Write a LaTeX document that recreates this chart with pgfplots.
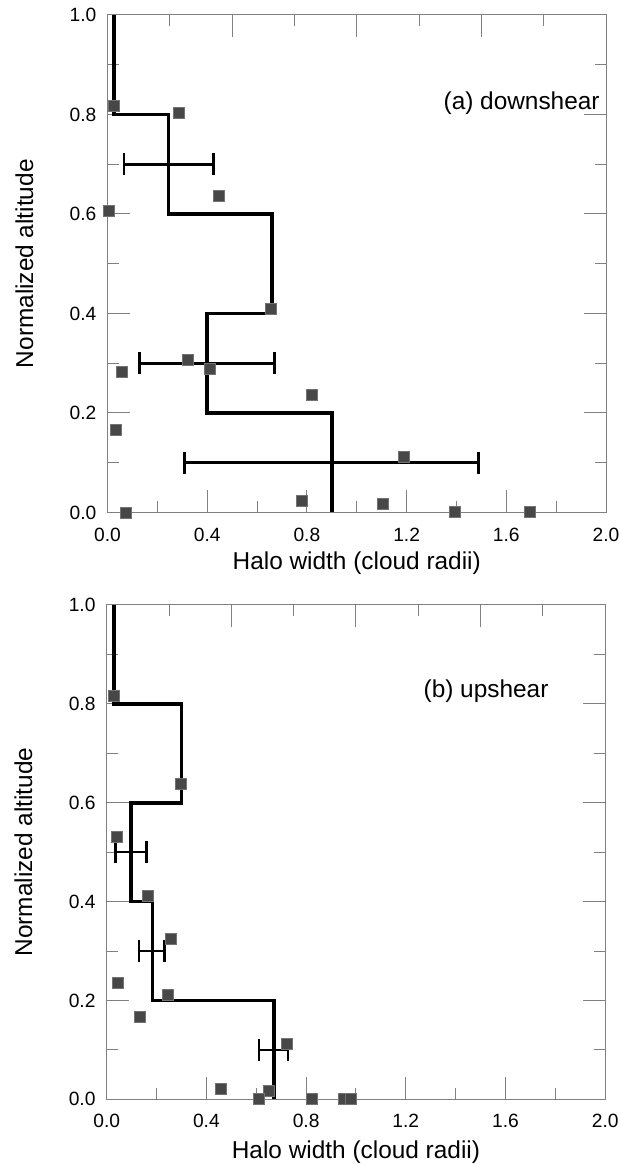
\documentclass[border=0pt]{standalone}
\usepackage{fontspec}
\setmainfont{Liberation Sans}
\usepackage{pgfplots}
\pgfplotsset{compat=1.18}

\newcommand{\tickfont}{\fontsize{9.6pt}{11pt}\selectfont}
\newcommand{\labfont}{\fontsize{12.2pt}{14pt}\selectfont}

\pgfplotsset{
  panel/.style={
    scale only axis, width=249.25pt,
    xmin=0, xmax=2, ymin=0, ymax=1,
    clip=false,
    axis line style={black!50, line width=0.5pt},
    every tick/.style={black!50, line width=0.5pt},
    major tick length=11pt, minor tick length=5.5pt,
    tick align=inside,
    xtick={0,0.4,0.8,1.2,1.6,2.0}, minor xtick={0.2,0.6,1.0,1.4,1.8},
    ytick={0,0.2,0.4,0.6,0.8,1.0}, minor ytick={0.1,0.3,0.5,0.7,0.9},
    xtick pos=lower, ytick pos=both,
    xticklabel style={font=\tickfont, inner sep=0pt, anchor=north, yshift=-7.4pt},
    yticklabel style={font=\tickfont, inner sep=0pt, anchor=east, xshift=-5.4pt},
    xticklabel={\pgfmathprintnumber[fixed, fixed zerofill, precision=1, assume math mode=true]{\tick}},
    yticklabel={\pgfmathprintnumber[fixed, fixed zerofill, precision=1, assume math mode=true]{\tick}},
    xlabel={Halo width (cloud radii)},
    ylabel={Normalized altitude},
    xlabel style={font=\labfont, anchor=base},
    ylabel style={font=\labfont, at={(axis description cs:-0.1494,0.5)}, anchor=base},
  },
  toptick/.style={
    scale only axis, width=249.25pt,
    xmin=0, xmax=2, ymin=0, ymax=1,
    axis x line*=top, axis y line=none,
    axis line style={black!50, line width=0.5pt},
    every tick/.style={black!50, line width=0.5pt},
    major tick length=11pt, minor tick length=5.5pt,
    tick align=inside,
    xtick={0.5,1.0,1.5,2.0}, minor xtick={0.25,0.75,1.25,1.75},
    xticklabels={},
  },
  sq/.style={only marks, mark=square*, mark size=2.75pt,
    mark options={fill=black!72, draw=black!55, line width=0.3pt}},
  step/.style={black, line width=1.8pt, line join=miter},
  ebar/.style={black, line width=1.3pt, unbounded coords=jump},
}

\begin{document}
\begin{tikzpicture}
\path[use as bounding box] (0,0) rectangle (310pt,582pt);

% ---------------- (a) downshear ----------------
\begin{axis}[panel, at={(53.75pt,325.75pt)}, anchor=south west, height=248.75pt,
  xlabel style={at={(axis description cs:0.5,-0.1142)}}]
\addplot[sq] coordinates {
 (0.027,0.817) (0.286,0.804) (0.448,0.636) (0.004,0.607) (0.656,0.410)
 (0.321,0.307) (0.412,0.289) (0.059,0.282) (0.819,0.236) (0.033,0.166)
 (1.187,0.112) (0.780,0.023) (1.105,0.017) (1.392,0.002) (1.693,0.002)
 (0.073,0.000)
};
\addplot[step] coordinates {
 (0.027,1.0) (0.027,0.8) (0.245,0.8) (0.245,0.6) (0.659,0.6) (0.659,0.4)
 (0.400,0.4) (0.400,0.2) (0.900,0.2) (0.900,0.0)
};
\addplot[ebar] coordinates {
 (0.067,0.7) (0.426,0.7) (nan,nan)
 (0.067,0.678) (0.067,0.722) (nan,nan)
 (0.426,0.678) (0.426,0.722) (nan,nan)
 (0.129,0.3) (0.669,0.3) (nan,nan)
 (0.129,0.278) (0.129,0.322) (nan,nan)
 (0.669,0.278) (0.669,0.322) (nan,nan)
 (0.308,0.1) (1.489,0.1) (nan,nan)
 (0.308,0.078) (0.308,0.122) (nan,nan)
 (1.489,0.078) (1.489,0.122)
};
\node[anchor=base east, font=\labfont, inner sep=0pt] at (rel axis cs:0.988,0.811) {(a) downshear};
\end{axis}
\begin{axis}[toptick, at={(53.75pt,325.75pt)}, anchor=south west, height=248.75pt]
\end{axis}

% ---------------- (b) upshear ----------------
\begin{axis}[panel, at={(53.35pt,32.35pt)}, anchor=south west, height=247.15pt,
  xlabel style={at={(axis description cs:0.5,-0.1194)}}]
\addplot[sq] coordinates {
 (0.029,0.817) (0.296,0.638) (0.039,0.531) (0.165,0.411) (0.258,0.324)
 (0.043,0.235) (0.247,0.211) (0.132,0.166) (0.723,0.112) (0.459,0.022)
 (0.651,0.017) (0.612,0.000) (0.821,0.000) (0.953,0.000) (0.978,0.000)
};
\addplot[step] coordinates {
 (0.029,1.0) (0.029,0.8) (0.300,0.8) (0.300,0.6) (0.097,0.6) (0.097,0.4)
 (0.184,0.4) (0.184,0.2) (0.671,0.2) (0.671,0.0)
};
\addplot[ebar] coordinates {
 (0.035,0.5) (0.160,0.5) (nan,nan)
 (0.035,0.478) (0.035,0.522) (nan,nan)
 (0.160,0.478) (0.160,0.522) (nan,nan)
 (0.129,0.3) (0.232,0.3) (nan,nan)
 (0.129,0.278) (0.129,0.322) (nan,nan)
 (0.232,0.278) (0.232,0.322) (nan,nan)
 (0.611,0.1) (0.728,0.1) (nan,nan)
 (0.611,0.078) (0.611,0.122) (nan,nan)
 (0.728,0.078) (0.728,0.122)
};
\node[anchor=base west, font=\labfont, inner sep=0pt] at (rel axis cs:0.635,0.813) {(b) upshear};
\end{axis}
\begin{axis}[toptick, at={(53.35pt,32.35pt)}, anchor=south west, height=247.15pt]
\end{axis}
\end{tikzpicture}
\end{document}
